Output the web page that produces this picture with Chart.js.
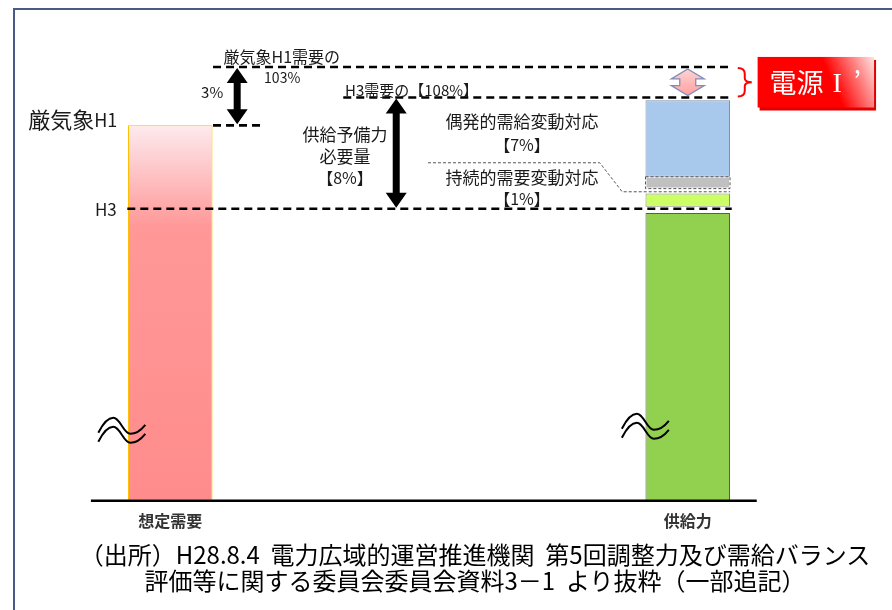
<!DOCTYPE html>
<html lang="ja">
<head>
<meta charset="utf-8">
<title>供給予備力必要量</title>
<script src="https://cdn.jsdelivr.net/npm/chart.js@4.4.0/dist/chart.umd.min.js"></script>
<style>
  body { margin: 0; background: #fff; }
  #wrap { position: relative; width: 892px; height: 610px; overflow: hidden; }
  #frame { position: absolute; left: 13px; top: 8px; width: 900px; height: 620px;
           border-left: 2px solid #4a5a86; border-top: 2px solid #4a5a86; }
  #chart { position: absolute; left: 0; top: 0; }
  #source { position: absolute; left: 40px; width: 870px; top: 541px; text-align: center;
            font: 24px/26px "Noto Sans CJK JP", sans-serif; color: #000; white-space: nowrap; }
</style>
</head>
<body>
<div id="wrap">
  <div id="frame"></div>
  <canvas id="chart" width="892" height="560"></canvas>
  <div id="source">（出所）H28.8.4&nbsp; 電力広域的運営推進機関&nbsp; 第5回調整力及び需給バランス<br>評価等に関する委員会委員会資料3－1&nbsp; より抜粋（一部追記）</div>
</div>
<script>
const categories = ['想定需要', '', '', '供給力'];

// 縦軸（H3需要 = 100 とした目安、下側は省略）
const axisMin = 79;
const axisMax = 113;

// 水準
const levelH3 = 100;
const levelH1 = 106;
const levelH3x108 = 108;
const levelH1x103 = 110.2;

// 棒 [下端, 上端]
const demandH1 = [79, 106];
const supplyBase = [79, 99.7];
const supplySustained = [100.15, 101.1];   // 持続的需要変動対応【1%】
const supplyDashed = [101.45, 102.3];
const supplyContingency = [102.3, 107.8];  // 偶発的需給変動対応【7%】

const FONT = '"Noto Sans CJK JP", "Noto Sans", sans-serif';
Chart.defaults.font.family = FONT;

const at = (idx, v) => categories.map((_, i) => (i === idx ? v : null));

const bar = (label, data, bg, border) => ({
  label, data,
  backgroundColor: bg,
  borderColor: border,
  borderWidth: 1,
  borderSkipped: false,
  grouped: false,
  categoryPercentage: 1,
  barPercentage: 0.49
});

function demandFill(ctx) {
  const { chart } = ctx;
  if (!chart.chartArea) return '#ff8f8f';
  const y = chart.scales.y;
  const g = chart.ctx.createLinearGradient(0, y.getPixelForValue(demandH1[1]), 0, y.getPixelForValue(axisMin));
  g.addColorStop(0, '#fdeaee');
  g.addColorStop(0.27, '#ff9898');
  g.addColorStop(1, '#ff8c8c');
  return g;
}

function dashed(ctx, x1, x2, y, w = 2.6, dash = [8, 5], color = '#000') {
  ctx.save();
  ctx.strokeStyle = color; ctx.lineWidth = w; ctx.setLineDash(dash);
  ctx.beginPath(); ctx.moveTo(x1, y); ctx.lineTo(x2, y); ctx.stroke();
  ctx.restore();
}

function dblArrow(ctx, cx, top, bottom, shaft, head, headH, fill, stroke) {
  ctx.save();
  ctx.beginPath();
  ctx.moveTo(cx, top);
  ctx.lineTo(cx + head / 2, top + headH);
  ctx.lineTo(cx + shaft / 2, top + headH);
  ctx.lineTo(cx + shaft / 2, bottom - headH);
  ctx.lineTo(cx + head / 2, bottom - headH);
  ctx.lineTo(cx, bottom);
  ctx.lineTo(cx - head / 2, bottom - headH);
  ctx.lineTo(cx - shaft / 2, bottom - headH);
  ctx.lineTo(cx - shaft / 2, top + headH);
  ctx.lineTo(cx - head / 2, top + headH);
  ctx.closePath();
  ctx.fillStyle = fill; ctx.fill();
  if (stroke) { ctx.strokeStyle = stroke; ctx.lineWidth = 1.3; ctx.stroke(); }
  ctx.restore();
}

function text(ctx, str, x, y, size, align = 'center', weight = 'normal', color = '#1a1a1a', family = FONT) {
  ctx.font = `${weight} ${size}px ${family}`;
  ctx.fillStyle = color; ctx.textAlign = align; ctx.textBaseline = 'middle';
  ctx.fillText(str, x, y);
}

function wave(ctx, x0, y0) {
  ctx.save();
  ctx.strokeStyle = '#000'; ctx.lineWidth = 2;
  for (const dy of [0, 9]) {
    ctx.beginPath();
    ctx.moveTo(x0, y0 + dy);
    ctx.bezierCurveTo(x0 + 5, y0 + dy - 10, x0 + 10, y0 + dy - 15, x0 + 15, y0 + dy - 15);
    ctx.bezierCurveTo(x0 + 22, y0 + dy - 15, x0 + 25, y0 + dy + 1, x0 + 32, y0 + dy + 1);
    ctx.bezierCurveTo(x0 + 38, y0 + dy + 1, x0 + 43, y0 + dy - 3, x0 + 47, y0 + dy - 8);
    ctx.stroke();
  }
  ctx.restore();
}

const notes = {
  id: 'notes',
  afterDraw(chart) {
    const { ctx, scales: { x, y } } = chart;
    const X = i => x.getPixelForValue(i);
    const Y = v => y.getPixelForValue(v);

    // 底辺
    ctx.save();
    ctx.strokeStyle = '#000'; ctx.lineWidth = 2.5;
    ctx.beginPath(); ctx.moveTo(X(-0.46), Y(axisMin)); ctx.lineTo(X(3.4), Y(axisMin)); ctx.stroke();
    ctx.restore();

    // 点線の枠（灰色部分）
    const el = chart.getDatasetMeta(3).data[3];
    const p = el.getProps(['x', 'y', 'base', 'width'], true);
    ctx.save();
    ctx.strokeStyle = '#555'; ctx.lineWidth = 1; ctx.setLineDash([3, 2]);
    ctx.strokeRect(p.x - p.width / 2, p.y, p.width, p.base - p.y);
    ctx.restore();

    // 水準線
    dashed(ctx, X(-0.249), X(3.255), Y(levelH3));
    dashed(ctx, X(0.248), X(0.533), Y(levelH1));
    dashed(ctx, X(0.248), X(3.255), Y(levelH1x103));
    dashed(ctx, X(1.003), X(3.255), Y(levelH3x108));

    // 矢印
    dblArrow(ctx, X(0.388), Y(levelH1x103) + 1, Y(levelH1) - 1, 7, 21, 15, '#000');
    dblArrow(ctx, X(1.31), Y(levelH3x108) + 1, Y(levelH3) - 1, 7, 21, 15, '#000');
    const pg = ctx.createLinearGradient(0, Y(levelH1x103), 0, Y(levelH3x108));
    pg.addColorStop(0, '#ffd6d6'); pg.addColorStop(1, '#ff9c9c');
    dblArrow(ctx, X(3), Y(levelH1x103) + 2, Y(levelH3x108) - 2, 16, 33, 10, pg, '#7f8fb8');

    // 細い点線の引出線
    ctx.save();
    ctx.strokeStyle = '#555'; ctx.lineWidth = 1; ctx.setLineDash([3, 2]);
    ctx.beginPath();
    ctx.moveTo(X(1.494), Y(levelH3) - 46);
    ctx.lineTo(X(2.49), Y(levelH3) - 46);
    ctx.lineTo(X(2.62), Y(levelH3) - 17);
    ctx.lineTo(X(3.246), Y(levelH3) - 17);
    ctx.stroke();
    ctx.restore();

    // 波線（省略記号）
    wave(ctx, X(-0.417), Y(axisMin) - 68);
    wave(ctx, X(2.618), Y(axisMin) - 72);

    // 文字
    text(ctx, '厳気象H1需要の', X(0.647), Y(levelH1x103) - 10, 16);
    text(ctx, '103%', X(0.649), Y(levelH1x103) + 11, 14);
    text(ctx, '3%', X(0.243), Y(levelH1) - 33, 15);
    ctx.font = `18px ${FONT}`;
    const wH1 = ctx.measureText('H1').width;
    text(ctx, 'H1', X(-0.307), Y(levelH1) - 5, 18, 'right');
    text(ctx, '厳気象', X(-0.307) - wH1, Y(levelH1) - 6, 22, 'right');
    text(ctx, 'H3', X(-0.31), Y(levelH3) + 1, 17, 'right');
    text(ctx, 'H3需要の【108%】', X(1.013), Y(levelH3x108) - 7, 15, 'left');
    text(ctx, '供給予備力', X(1.013), Y(levelH3) - 74, 17);
    text(ctx, '必要量', X(1.013), Y(levelH3) - 52, 17);
    text(ctx, '【8%】', X(1.013), Y(levelH3) - 31, 16);
    text(ctx, '偶発的需給変動対応', X(2.039), Y(levelH3x108) + 24, 17);
    text(ctx, '【7%】', X(2.039), Y(levelH3x108) + 47, 16);
    text(ctx, '持続的需要変動対応', X(2.039), Y(levelH3) - 31, 17);
    text(ctx, '【1%】', X(2.039), Y(levelH3) - 10, 16);

    // 中括弧
    const bt = Y(levelH1x103) + 1, bb = Y(levelH3x108) - 1, bm = (bt + bb) / 2;
    const bx = X(3.29);
    ctx.save();
    ctx.strokeStyle = '#ff0000'; ctx.lineWidth = 2;
    ctx.beginPath();
    ctx.moveTo(bx, bt);
    ctx.quadraticCurveTo(bx + 7, bt, bx + 7, bt + 6);
    ctx.lineTo(bx + 7, bm - 4);
    ctx.quadraticCurveTo(bx + 7, bm, bx + 14, bm);
    ctx.quadraticCurveTo(bx + 7, bm, bx + 7, bm + 4);
    ctx.lineTo(bx + 7, bb - 6);
    ctx.quadraticCurveTo(bx + 7, bb, bx, bb);
    ctx.stroke();
    ctx.restore();

    // 電源Ⅰ’ ラベル
    const rx1 = X(3.405), rx2 = X(4.08), ry1 = Y(levelH1x103) - 10, ry2 = Y(levelH3x108) + 10;
    const rg = ctx.createLinearGradient(rx1, ry2, rx2, ry1);
    rg.addColorStop(0, '#ff0000'); rg.addColorStop(0.62, '#ff0000'); rg.addColorStop(1, '#ffe4e4');
    ctx.save();
    ctx.fillStyle = '#e00000';
    ctx.fillRect(rx1 + 2, ry1 + 3, rx2 - rx1, ry2 - ry1);
    ctx.fillStyle = rg;
    ctx.fillRect(rx1, ry1, rx2 - rx1, ry2 - ry1);
    ctx.restore();
    const ty = (ry1 + ry2) / 2 + 1;
    text(ctx, '電源', rx1 + 12, ty, 27, 'left', 'normal', '#fff');
    ctx.font = `27px ${FONT}`;
    const wDen = ctx.measureText('電源').width;
    text(ctx, 'I', rx1 + 12 + wDen + 9, ty + 1, 28, 'left', 'normal', '#fff', '"Liberation Serif", "DejaVu Serif", serif');
    text(ctx, '’', rx1 + 12 + wDen + 30, ty - 2, 27, 'left', 'normal', '#fff');
  }
};

new Chart(document.getElementById('chart'), {
  type: 'bar',
  data: {
    labels: categories,
    datasets: [
      bar('想定需要', at(0, demandH1), demandFill, '#ffc000'),
      bar('供給力', at(3, supplyBase), '#92d050', '#5a5a5a'),
      bar('持続的需要変動対応', at(3, supplySustained), '#ccff66', '#8a8a8a'),
      bar('', at(3, supplyDashed), '#c0c0c0', 'rgba(0,0,0,0)'),
      bar('偶発的需給変動対応', at(3, supplyContingency), '#a9c9ec', '#7f8fb0')
    ]
  },
  options: {
    responsive: false,
    animation: false,
    layout: { padding: { left: 84, right: 118, top: 28, bottom: 18 } },
    plugins: { legend: { display: false }, tooltip: { enabled: false } },
    scales: {
      x: {
        grid: { display: false, drawTicks: false },
        border: { display: false },
        ticks: { padding: 11, color: '#333', autoSkip: false, maxRotation: 0,
                 font: { size: 16, weight: 'bold' } }
      },
      y: { display: false, min: axisMin, max: axisMax }
    }
  },
  plugins: [notes]
});
</script>
</body>
</html>
